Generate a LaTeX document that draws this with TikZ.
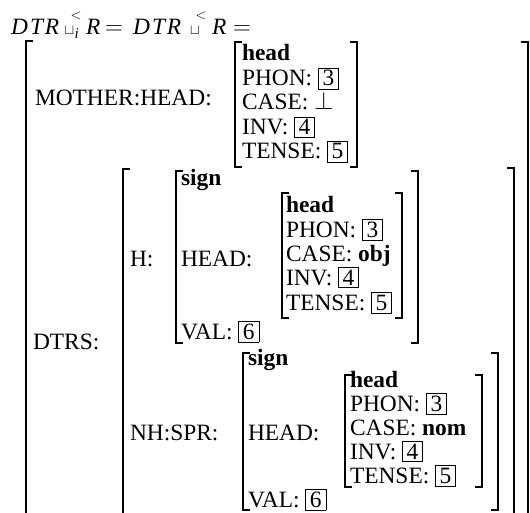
\documentclass[tikz,border=0pt]{standalone}
\usepackage{fontspec}
\setmainfont{Liberation Serif}
\newcommand\bx[1]{{\setlength\fboxsep{2.3pt}\setlength\fboxrule{0.6pt}\fbox{\makebox[15pt]{#1}}}}
\newcommand\LB[3]{\draw[br] ({#1+7},#2) -- (#1,#2) -- (#1,#3) -- ({#1+7},#3);}
\newcommand\RB[3]{\draw[br] ({#1-7},#2) -- (#1,#2) -- (#1,#3) -- ({#1-7},#3);}
\newcommand\dtr{D\kern2.2pt T\kern1.8pt R}
\tikzset{
  t/.style={anchor=base west, inner sep=0pt, outer sep=0pt, font=\fontsize{23.4pt}{24pt}\selectfont},
  sm/.style={inner sep=0pt, outer sep=0pt, font=\fontsize{15pt}{15pt}\selectfont},
  br/.style={line width=1.25pt, line cap=butt, line join=miter},
}
\begin{document}
\begin{tikzpicture}[x=1pt,y=-1pt]
\useasboundingbox (0,0) rectangle (530,513);
\clip (0,0) rectangle (530,513);
% title
\node[t] (d1) at (11,35) {\itshape\dtr};
\node[sm, anchor=base] (c1) at (69.5,35) {\raisebox{0pt}[8pt][0pt]{$\sqcup$}};
\node[sm] (l1) at (76,15.5) {$<$};
\node[sm, anchor=base west] (i1) at (74.5,39) {\itshape i};
\node[t] (r1) at (86,35) {\itshape R};
\node[t] (e1) at (105,35) {$=$};
\node[t] (d2) at (133,35) {\itshape\dtr};
\node[sm, anchor=base] (c2) at (195,35) {\raisebox{0pt}[8pt][0pt]{$\sqcup$}};
\node[sm] (l2) at (201,15.5) {$<$};
\node[t] (r2) at (212,35) {\itshape R};
\node[t] (e2) at (233,35) {$=$};
% outer bracket
\LB{26}{41}{530}
\RB{528}{42}{530}
% MOTHER
\node[t] (mo) at (35,106) {MOTHER:HEAD:};
\LB{235}{42}{167}
\RB{357}{42}{167}
\node[t] (mh0) at (242,61) {\textbf{head}};
\node[t] (mh1) at (242,86) {PHON: \bx{3}};
\node[t] (mh2) at (242,110) {CASE: \raisebox{0pt}[14pt][0pt]{$\bot$}};
\node[t] (mh3) at (242,135) {INV: \bx{4}};
\node[t] (mh4) at (242,159) {TENSE: \bx{5}};
% DTRS
\node[t] (dt) at (33,349) {DTRS:};
\LB{123}{169}{530}
\RB{514}{168}{530}
% H
\node[t] (h) at (130,266) {H:};
\LB{176}{171}{343}
\RB{418}{171}{343}
\node[t] (hs) at (181,186) {\textbf{sign}};
\node[t] (hh) at (181,266) {HEAD:};
\node[t] (hv) at (181,339) {VAL: \bx{6}};
\LB{282}{193}{318}
\RB{402}{193}{318}
\node[t] (hh0) at (286,213) {\textbf{head}};
\node[t] (hh1) at (286,237) {PHON: \bx{3}};
\node[t] (hh2) at (286,261) {CASE: \textbf{obj}};
\node[t] (hh3) at (286,285) {INV: \bx{4}};
\node[t] (hh4) at (286,310) {TENSE: \bx{5}};
% NH:SPR
\node[t] (nh) at (130,440) {NH:SPR:};
\LB{243}{353}{510}
\RB{498}{353}{510}
\node[t] (ns) at (248,365) {\textbf{sign}};
\node[t] (nhd) at (248,440) {HEAD:};
\node[t] (nv) at (248,507) {VAL: \bx{6}};
\LB{345}{375}{487}
\RB{482}{375}{487}
\node[t] (nh0) at (350,387) {\textbf{head}};
\node[t] (nh1) at (350,411) {PHON: \bx{3}};
\node[t] (nh2) at (350,435) {CASE: \textbf{nom}};
\node[t] (nh3) at (350,459) {INV: \bx{4}};
\node[t] (nh4) at (350,483) {TENSE: \bx{5}};
\end{tikzpicture}
\end{document}
